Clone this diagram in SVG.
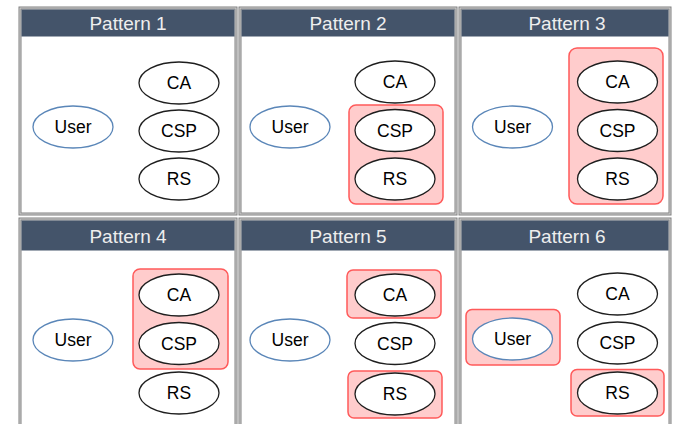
<svg xmlns="http://www.w3.org/2000/svg" width="673" height="424" viewBox="0 0 673 424">
<defs>
<style>
.frame{fill:#ffffff;stroke:#808080;stroke-width:3}
.frame2{fill:none;stroke:#d4d4d4;stroke-width:1}
.hdr{fill:#44546a}
.htxt{font-family:"Liberation Sans",Arial,sans-serif;font-size:19px;fill:#eeeeee;text-anchor:middle}
.hl{fill:#ffcccc;stroke:#ff5a5a;stroke-width:1.5}
.node{fill:#ffffff;stroke:#1e1e1e;stroke-width:1.3}
.user{fill:#ffffff;stroke:#5a86b8;stroke-width:1.3}
.ntxt{font-family:"Liberation Sans",Arial,sans-serif;font-size:17.5px;fill:#000000;text-anchor:middle}
</style>
</defs>
<rect width="673" height="424" fill="#ffffff"/>

<g id="pattern1">
<rect class="frame" x="20" y="8" width="216" height="206"/>
<rect class="frame2" x="20" y="8" width="216" height="206"/>
<rect class="hdr" x="21.5" y="9.5" width="213" height="27"/>
<text class="htxt" x="128" y="29.5">Pattern 1</text>
<g id="p1-user"><ellipse class="user" cx="73" cy="127" rx="40" ry="21"/><text class="ntxt" x="73" y="133">User</text></g>
<g id="p1-ca"><ellipse class="node" cx="179" cy="83" rx="40" ry="21"/><text class="ntxt" x="179" y="89">CA</text></g>
<g id="p1-csp"><ellipse class="node" cx="179" cy="131" rx="40" ry="21"/><text class="ntxt" x="179" y="137">CSP</text></g>
<g id="p1-rs"><ellipse class="node" cx="179" cy="179" rx="40" ry="21"/><text class="ntxt" x="179" y="185">RS</text></g>
</g>

<g id="pattern2">
<rect class="frame" x="240" y="8" width="216" height="206"/>
<rect class="frame2" x="240" y="8" width="216" height="206"/>
<rect class="hdr" x="241.5" y="9.5" width="213" height="27"/>
<text class="htxt" x="348" y="29.5">Pattern 2</text>
<rect class="hl" x="349" y="105" width="94" height="99" rx="7"/>
<g id="p2-user"><ellipse class="user" cx="290" cy="127" rx="40" ry="21"/><text class="ntxt" x="290" y="133">User</text></g>
<g id="p2-ca"><ellipse class="node" cx="395" cy="82" rx="40" ry="21"/><text class="ntxt" x="395" y="88">CA</text></g>
<g id="p2-csp"><ellipse class="node" cx="395" cy="130.5" rx="40" ry="21"/><text class="ntxt" x="395" y="136.5">CSP</text></g>
<g id="p2-rs"><ellipse class="node" cx="395" cy="179" rx="40" ry="21"/><text class="ntxt" x="395" y="185">RS</text></g>
</g>

<g id="pattern3">
<rect class="frame" x="460" y="8" width="210" height="206"/>
<rect class="frame2" x="460" y="8" width="210" height="206"/>
<rect class="hdr" x="461.5" y="9.5" width="207" height="27"/>
<text class="htxt" x="567" y="29.5">Pattern 3</text>
<rect class="hl" x="569" y="48" width="94" height="156" rx="8"/>
<g id="p3-user"><ellipse class="user" cx="512.5" cy="127" rx="40" ry="21"/><text class="ntxt" x="512.5" y="133">User</text></g>
<g id="p3-ca"><ellipse class="node" cx="617.5" cy="82" rx="40" ry="21"/><text class="ntxt" x="617.5" y="88">CA</text></g>
<g id="p3-csp"><ellipse class="node" cx="617.5" cy="130.5" rx="40" ry="21"/><text class="ntxt" x="617.5" y="136.5">CSP</text></g>
<g id="p3-rs"><ellipse class="node" cx="617.5" cy="179" rx="40" ry="21"/><text class="ntxt" x="617.5" y="185">RS</text></g>
</g>

<g id="pattern4">
<rect class="frame" x="20" y="219" width="216" height="215"/>
<rect class="frame2" x="20" y="219" width="216" height="215"/>
<rect class="hdr" x="21.5" y="220.5" width="213" height="30"/>
<text class="htxt" x="128" y="243">Pattern 4</text>
<rect class="hl" x="133" y="269" width="95" height="100" rx="7"/>
<g id="p4-user"><ellipse class="user" cx="73" cy="340" rx="40" ry="21"/><text class="ntxt" x="73" y="346">User</text></g>
<g id="p4-ca"><ellipse class="node" cx="179" cy="295" rx="40" ry="21"/><text class="ntxt" x="179" y="301">CA</text></g>
<g id="p4-csp"><ellipse class="node" cx="179" cy="343.5" rx="40" ry="21"/><text class="ntxt" x="179" y="349.5">CSP</text></g>
<g id="p4-rs"><ellipse class="node" cx="179" cy="393" rx="40" ry="21"/><text class="ntxt" x="179" y="399">RS</text></g>
</g>

<g id="pattern5">
<rect class="frame" x="240" y="219" width="216" height="215"/>
<rect class="frame2" x="240" y="219" width="216" height="215"/>
<rect class="hdr" x="241.5" y="220.5" width="213" height="30"/>
<text class="htxt" x="348" y="243">Pattern 5</text>
<rect class="hl" x="347" y="270" width="94" height="48" rx="6"/>
<rect class="hl" x="348" y="371" width="94" height="47" rx="6"/>
<g id="p5-user"><ellipse class="user" cx="290" cy="340" rx="40" ry="21"/><text class="ntxt" x="290" y="346">User</text></g>
<g id="p5-ca"><ellipse class="node" cx="395" cy="295" rx="40" ry="21"/><text class="ntxt" x="395" y="301">CA</text></g>
<g id="p5-csp"><ellipse class="node" cx="395" cy="343.5" rx="40" ry="21"/><text class="ntxt" x="395" y="349.5">CSP</text></g>
<g id="p5-rs"><ellipse class="node" cx="395" cy="394" rx="40" ry="21"/><text class="ntxt" x="395" y="400">RS</text></g>
</g>

<g id="pattern6">
<rect class="frame" x="460" y="219" width="210" height="215"/>
<rect class="frame2" x="460" y="219" width="210" height="215"/>
<rect class="hdr" x="461.5" y="220.5" width="207" height="30"/>
<text class="htxt" x="567" y="243">Pattern 6</text>
<rect class="hl" x="466" y="309.5" width="94" height="55.5" rx="6"/>
<rect class="hl" x="571" y="369.5" width="93" height="46.5" rx="6"/>
<g id="p6-user"><ellipse class="user" cx="512.5" cy="339" rx="40" ry="21"/><text class="ntxt" x="512.5" y="345">User</text></g>
<g id="p6-ca"><ellipse class="node" cx="617.5" cy="294" rx="40" ry="21"/><text class="ntxt" x="617.5" y="300">CA</text></g>
<g id="p6-csp"><ellipse class="node" cx="617.5" cy="343" rx="40" ry="21"/><text class="ntxt" x="617.5" y="349">CSP</text></g>
<g id="p6-rs"><ellipse class="node" cx="617.5" cy="393" rx="40" ry="21"/><text class="ntxt" x="617.5" y="399">RS</text></g>
</g>

<g id="connectors"></g>
</svg>
